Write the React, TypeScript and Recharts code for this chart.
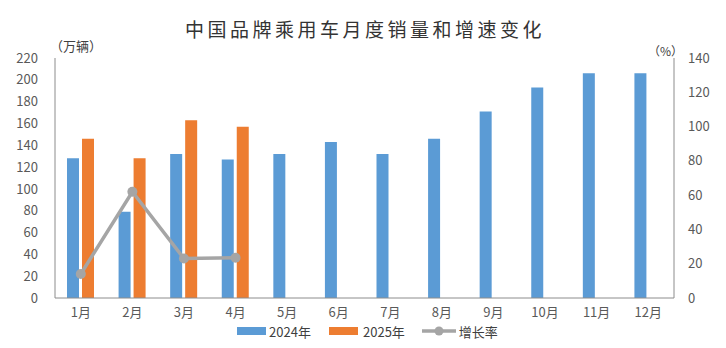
import React from "react";
import {
  ComposedChart,
  Bar,
  Line,
  XAxis,
  YAxis,
  Legend,
} from "recharts";

// chart data
const months = ["1月", "2月", "3月", "4月", "5月", "6月", "7月", "8月", "9月", "10月", "11月", "12月"];
const sales2024 = [128, 79, 132, 127, 132, 143, 132, 146, 171, 193, 206, 206];
const sales2025 = [146, 128, 163, 157, null, null, null, null, null, null, null, null];
const growthRate = [14, 62, 23, 23.5, null, null, null, null, null, null, null, null];

const leftTicks = [0, 20, 40, 60, 80, 100, 120, 140, 160, 180, 200, 220];
const rightTicks = [0, 20, 40, 60, 80, 100, 120, 140];

const BLUE = "#5B9BD5";
const ORANGE = "#ED7D31";
const GRAY = "#A5A5A5";
const AXIS = "#8c8c8c";
const FONT = "'Noto Sans CJK SC', 'Noto Sans', sans-serif";

const data = months.map((m, i) => ({
  month: m,
  y2024: sales2024[i],
  y2025: sales2025[i],
  rate: growthRate[i],
}));

const tickStyle = { fill: "#595959", fontSize: 13, fontFamily: FONT };

const renderLegend = () => (
  <div
    style={{
      display: "flex",
      justifyContent: "center",
      alignItems: "center",
      height: 22,
      paddingLeft: 9,
      fontFamily: FONT,
      fontSize: 13,
      color: "#404040",
    }}
  >
    <span style={{ display: "flex", alignItems: "center", marginRight: 18 }}>
      <span style={{ width: 29, height: 8, background: BLUE, marginRight: 3 }} />
      2024年
    </span>
    <span style={{ display: "flex", alignItems: "center", marginRight: 17 }}>
      <span style={{ width: 29, height: 8, background: ORANGE, marginRight: 5 }} />
      2025年
    </span>
    <span style={{ display: "flex", alignItems: "center" }}>
      <svg width={34} height={12} style={{ marginRight: 3 }}>
        <line x1={0} y1={6} x2={34} y2={6} stroke={GRAY} strokeWidth={3.5} />
        <circle cx={17} cy={6} r={4.5} fill={GRAY} />
      </svg>
      增长率
    </span>
  </div>
);

export default function App() {
  return (
    <div
      style={{
        position: "absolute",
        left: 0,
        top: 0,
        width: 726,
        height: 348,
        background: "#fff",
        fontFamily: FONT,
      }}
    >
      <div
        style={{
          position: "absolute",
          top: 17,
          left: 0,
          width: 730,
          textAlign: "center",
          fontSize: 19,
          letterSpacing: 3.5,
          color: "#333",
          lineHeight: "24px",
        }}
      >
        中国品牌乘用车月度销量和增速变化
      </div>
      <div style={{ position: "absolute", top: 36, left: 50, fontSize: 13, color: "#404040" }}>
        （万辆）
      </div>
      <div style={{ position: "absolute", top: 42, left: 648, fontSize: 12, color: "#404040" }}>
        （%）
      </div>
      <ComposedChart
        width={726}
        height={348}
        data={data}
        margin={{ top: 58, right: 0, bottom: 0, left: 0 }}
        barSize={12}
        barGap={3}
      >
        <XAxis
          dataKey="month"
          height={28}
          tickLine={false}
          tickSize={6}
          tickMargin={4}
          stroke={AXIS}
          tick={tickStyle}
        />
        <YAxis
          yAxisId="left"
          width={55}
          domain={[0, 220]}
          ticks={leftTicks}
          tickLine={false}
          tickSize={6}
          tickMargin={11}
          stroke={AXIS}
          tick={tickStyle}
          interval={0}
        />
        <YAxis
          yAxisId="right"
          orientation="right"
          width={52}
          domain={[0, 140]}
          ticks={rightTicks}
          tickLine={false}
          tickSize={6}
          tickMargin={8}
          stroke={AXIS}
          tick={{ ...tickStyle, textAnchor: "start" }}
          interval={0}
        />
        <Legend verticalAlign="bottom" content={renderLegend} wrapperStyle={{ bottom: 6 }} />
        <Bar yAxisId="left" dataKey="y2024" name="2024年" fill={BLUE} isAnimationActive={false} />
        <Bar yAxisId="left" dataKey="y2025" name="2025年" fill={ORANGE} isAnimationActive={false} />
        <Line
          yAxisId="right"
          dataKey="rate"
          name="增长率"
          stroke={GRAY}
          strokeWidth={3.5}
          dot={{ r: 5, fill: GRAY, stroke: GRAY, strokeWidth: 0 }}
          connectNulls={false}
          isAnimationActive={false}
        />
      </ComposedChart>
    </div>
  );
}
